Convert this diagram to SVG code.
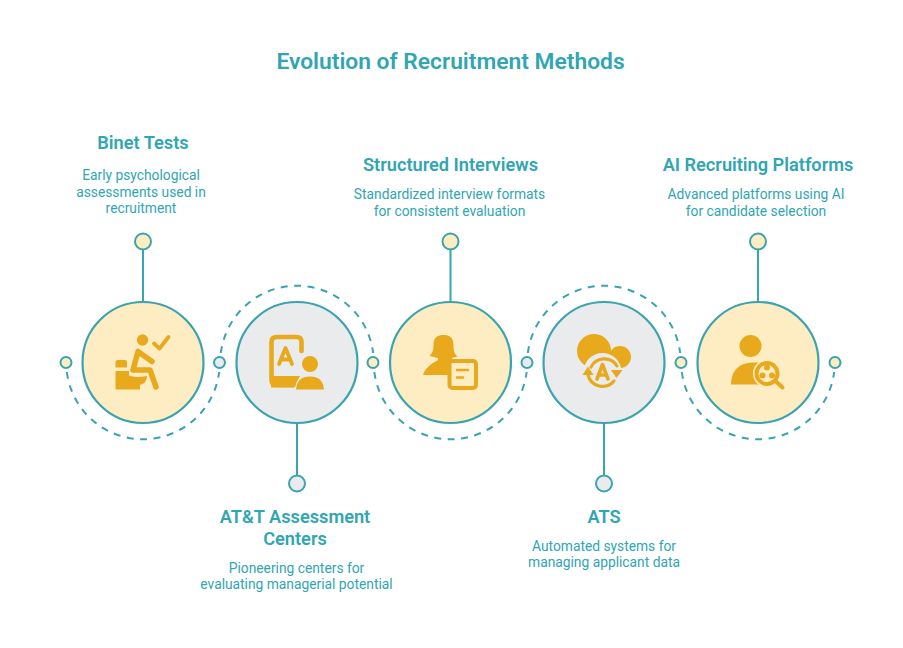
<svg xmlns="http://www.w3.org/2000/svg" width="903" height="648" viewBox="0 0 903 648">
<style>
text{font-family:Roboto,"Liberation Sans",sans-serif;fill:#2fa6b2;text-anchor:middle}
.title{font-size:22.800px;font-weight:600}
.h{font-size:18.200px;font-weight:600}
.d{font-size:13.800px}
.big{stroke:#3aa3b0;stroke-width:2.200}
.y{fill:#feecc3}
.g{fill:#e9ebed}
.dot{stroke:#3aa3b0;stroke-width:2}
.stem{stroke:#3aa3b0;stroke-width:2;fill:none}
.dash{stroke:#3aa3b0;stroke-width:2;fill:none;stroke-dasharray:7 6.500}
.ic{fill:#e8aa1c}
.ln{fill:none;stroke:#e8aa1c;stroke-linecap:round;stroke-linejoin:round}
</style>
<rect width="903" height="648" fill="#fff"/>
<text class="title" x="450.500" y="69">Evolution of Recruitment Methods</text>
<g id="connectors">
<path class="stem" d="M143 249V302M297 423V476M450.500 249V302M604 423V476M758 249V302"/>
<path class="dash" d="M66.840 372A76.750 76.750 0 0 0 219.160 372M220.840 353A76.750 76.750 0 0 1 373.160 353M374.340 372A76.750 76.750 0 0 0 526.660 372M527.840 353A76.750 76.750 0 0 1 680.160 353M681.840 372A76.750 76.750 0 0 0 834.160 372"/>
</g>
<g id="node-binet">
<circle class="big y" cx="143" cy="362.500" r="60.500"/>
<circle class="ic" cx="142.500" cy="340" r="5.700"/>
<path class="ln" stroke-width="3.800" d="M154 343.500L159.500 348.500L168.500 337"/>
<path class="ln" stroke-width="5.500" d="M152 361.500L138 351.500L133 370H150L156 387"/>
<path class="ic" d="M117.500 360H125Q127 360 127 362V367.500H115.500V362Q115.500 360 117.500 360ZM115.500 371H129V375.500Q135 378 147 376Q147 383 140 385V389.500H115.500Z"/>
</g>
<g id="node-att">
<circle class="big g" cx="297" cy="362.500" r="60.500"/>
<path class="ln" stroke-width="4.600" d="M301.500 351V342Q301.500 337 296.500 337H277Q271.500 337 271.500 342V380Q271.500 385 277 385H294"/>
<path class="ic" d="M271 376H300L294 387.500H271Z"/>
<path class="ln" stroke-width="3.800" d="M279 364L285.500 348L292 364M281 359.500H290"/>
<circle class="ic" cx="310" cy="364" r="8"/>
<path class="ic" d="M296 389.500Q297 376.500 310 376.500Q323 376.500 324 389.500Z" stroke="#e9ebed" stroke-width="2" paint-order="stroke"/>
</g>
<g id="node-structured">
<circle class="big y" cx="450.500" cy="362.500" r="60.500"/>
<path class="ic" d="M433.500 345C433.500 337 438 335 443.500 335C449 335 453.500 337 453.500 345C453.500 350 454 354 457.500 356.500L452 358V375H423C425 368 431 364 438 360V358L429.500 356C432.500 353 433.500 350 433.500 345Z"/>
<rect x="449.500" y="361" width="26.500" height="27" rx="3" fill="#feecc3" stroke="#e8aa1c" stroke-width="4"/>
<path class="ln" stroke-width="2.600" d="M457 370H468M457 377.500H463"/>
</g>
<g id="node-ats">
<circle class="big g" cx="604" cy="362.500" r="60.500"/>
<circle class="ic" cx="594" cy="351" r="17"/>
<circle class="ic" cx="620" cy="357" r="11"/>
<path class="ic" d="M598 352H624V367H598Z"/>
<circle class="g" cx="602.500" cy="372" r="19"/>
<path class="ln" stroke-width="3.200" d="M591 367A15 15 0 0 1 617 366M614 381A15 15 0 0 1 588 375"/>
<path class="ic" d="M582.500 375L588 366.500L593.500 375ZM611 370L622.500 370L616.500 378Z"/>
<path class="ln" stroke-width="3.600" d="M597 379L602.500 364.500L608 379M599 375H606"/>
</g>
<g id="node-ai">
<circle class="big y" cx="758" cy="362.500" r="60.500"/>
<circle class="ic" cx="750.500" cy="346" r="11"/>
<path class="ic" d="M731 384.500C731 370 740 363 752 362.500H762V384.500Z"/>
<circle cx="767" cy="373.500" r="14" fill="#feecc3"/>
<circle cx="767" cy="373.500" r="10.500" fill="#feecc3" stroke="#e8aa1c" stroke-width="4"/>
<path class="ln" stroke-width="4" d="M776 381.500L782.500 387.500"/>
<circle class="ic" cx="767" cy="367.500" r="3"/>
<circle class="ic" cx="762.500" cy="375.500" r="3"/>
<circle class="ic" cx="772" cy="375.500" r="3"/>
</g>
<g id="dots">
<circle class="dot y" cx="143" cy="241.500" r="8"/>
<circle class="dot g" cx="297" cy="483.500" r="8"/>
<circle class="dot y" cx="450.500" cy="241.500" r="8"/>
<circle class="dot g" cx="604" cy="483.500" r="8"/>
<circle class="dot y" cx="758" cy="241.500" r="8"/>
<circle class="dot y" cx="66" cy="362.500" r="5.500"/>
<circle class="dot g" cx="219.500" cy="362.500" r="5.500"/>
<circle class="dot y" cx="373" cy="362.500" r="5.500"/>
<circle class="dot g" cx="527" cy="362.500" r="5.500"/>
<circle class="dot y" cx="681" cy="362.500" r="5.500"/>
<circle class="dot y" cx="835" cy="362.500" r="5.500"/>
</g>
<g id="labels">
<text class="h" x="143" y="149">Binet Tests</text>
<text class="d" x="141" y="180">Early psychological</text>
<text class="d" x="141" y="197">assessments used in</text>
<text class="d" x="141" y="213">recruitment</text>
<text class="h" x="450.500" y="171">Structured Interviews</text>
<text class="d" x="449.500" y="199">Standardized interview formats</text>
<text class="d" x="449.500" y="216">for consistent evaluation</text>
<text class="h" x="758" y="171">AI Recruiting Platforms</text>
<text class="d" x="756" y="199">Advanced platforms using AI</text>
<text class="d" x="756" y="216">for candidate selection</text>
<text class="h" x="295" y="522.500">AT&amp;T Assessment</text>
<text class="h" x="295" y="544.500">Centers</text>
<text class="d" x="296.500" y="573">Pioneering centers for</text>
<text class="d" x="296.500" y="589">evaluating managerial potential</text>
<text class="h" x="604" y="522.500">ATS</text>
<text class="d" x="604" y="551">Automated systems for</text>
<text class="d" x="604" y="567">managing applicant data</text>
</g>
</svg>
